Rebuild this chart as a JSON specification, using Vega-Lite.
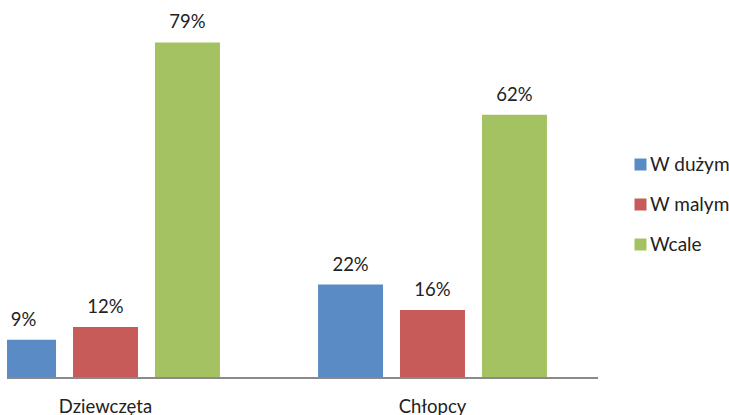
{
  "$schema": "https://vega.github.io/schema/vega-lite/v6.json",
  "autosize": "none",
  "width": 591,
  "height": 378,
  "padding": {"left": 7, "top": 0, "right": 131, "bottom": 37},
  "background": "white",
  "config": {"view": {"stroke": null}, "font": "Lato"},
  "data": {"values": [
    {"grupa": "Dziewczęta", "odp": "W dużym", "v": 0.09},
    {"grupa": "Dziewczęta", "odp": "W malym", "v": 0.12},
    {"grupa": "Dziewczęta", "odp": "Wcale", "v": 0.79},
    {"grupa": "Chłopcy", "odp": "W dużym", "v": 0.22},
    {"grupa": "Chłopcy", "odp": "W malym", "v": 0.16},
    {"grupa": "Chłopcy", "odp": "Wcale", "v": 0.62}
  ]},
  "encoding": {
    "x": {"field": "grupa", "type": "nominal", "sort": ["Dziewczęta", "Chłopcy"],
      "scale": {"paddingInner": 0.3, "paddingOuter": 0.15, "range": [-65, 589]},
      "axis": {"title": null, "labelAngle": 0, "ticks": false, "domain": false, "labelFontSize": 18.5, "labelColor": "#222", "labelPadding": 19, "labelFont": "Lato"}},
    "xOffset": {"field": "odp", "type": "nominal", "sort": ["W dużym", "W malym", "Wcale"],
      "scale": {"paddingInner": 0.207, "paddingOuter": 0}},
    "y": {"field": "v", "type": "quantitative", "scale": {"domain": [0, 0.89], "nice": false}, "axis": null}
  },
  "layer": [
    {"mark": {"type": "bar", "clip": true},
     "encoding": {"color": {"field": "odp", "type": "nominal", "sort": ["W dużym", "W malym", "Wcale"],
       "scale": {"domain": ["W dużym", "W malym", "Wcale"], "range": ["#5B8BC5", "#C75B59", "#A5C263"]},
       "legend": {"title": null, "orient": "none", "legendX": 624, "legendY": 155, "symbolType": "square", "symbolSize": 144, "symbolStrokeWidth": 0, "labelFontSize": 19, "labelColor": "#222", "rowPadding": 20, "labelFont": "Lato", "labelOffset": 0}}}},
    {"mark": {"type": "text", "baseline": "alphabetic", "dy": -14, "fontSize": 18.5, "color": "#222"},
     "encoding": {"text": {"field": "v", "type": "quantitative", "format": ".0%"}}},
    {"mark": {"type": "rule", "color": "#8a8a8a", "strokeWidth": 1.5},
     "encoding": {"y": {"datum": 0}, "x": null, "xOffset": null}}
  ]
}
